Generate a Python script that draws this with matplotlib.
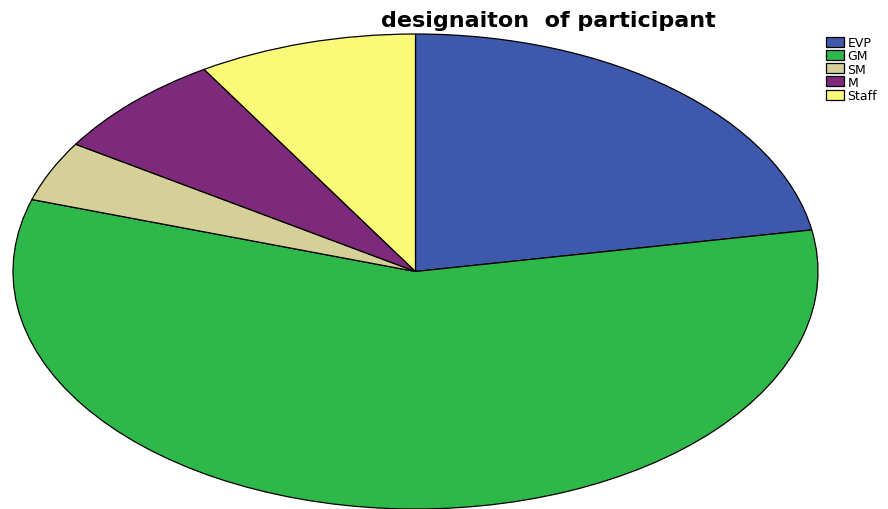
import matplotlib
matplotlib.use("Agg")
import matplotlib.pyplot as plt

labels = ["EVP", "GM", "SM", "M", "Staff"]
shares = [22.2, 57.7, 4.1, 7.2, 8.8]
colors = ["#3e58ac", "#2eb84a", "#d5cf98", "#7d2a7c", "#fafa78"]

fig = plt.figure(figsize=(8.88, 5.10), dpi=100)
ax = fig.add_axes([13 / 888, 0.0, 805 / 888, 475 / 510])

wedges, _ = ax.pie(
    shares,
    colors=colors,
    startangle=90,
    counterclock=False,
    wedgeprops=dict(edgecolor="black", linewidth=0.9),
)
ax.set_aspect("auto")
ax.set_xlim(-1, 1)
ax.set_ylim(-1, 1)
ax.axis("off")
for w in wedges:
    w.set_clip_on(False)

fig.text(0.617, 0.958, "designaiton  of participant", ha="center", va="center",
         fontsize=16, fontweight="bold", family="DejaVu Sans")

fig.legend(wedges, labels, loc="upper left", bbox_to_anchor=(826 / 888, 1 - 37 / 510),
           frameon=False, labelspacing=0.02, handlelength=1.4,
           handleheight=0.85, handletextpad=0.3, borderaxespad=0, borderpad=0,
           prop={"family": "DejaVu Sans", "size": 9})

fig.savefig("out.png", dpi=100)
